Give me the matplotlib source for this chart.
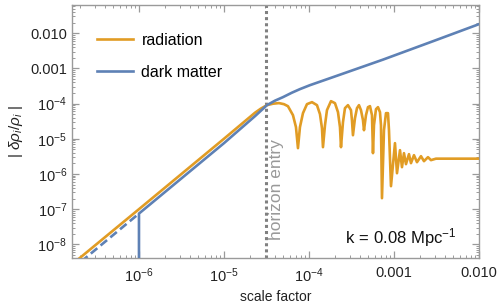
import numpy as np
import matplotlib
matplotlib.use("Agg")
import matplotlib.pyplot as plt
from matplotlib.ticker import FixedLocator, NullFormatter, LogLocator

plt.rcParams['font.family'] = ['Liberation Sans', 'DejaVu Sans']
plt.rcParams['mathtext.fontset'] = 'custom'
plt.rcParams['mathtext.rm'] = 'Liberation Sans'
plt.rcParams['mathtext.it'] = 'Liberation Sans:italic'

# ---- data ----
# radiation |delta rho / rho|
a_rad = [1.6e-7, 1e-6, 1e-5, 2.32e-5, 2.72e-5, 3.2e-5, 3.77e-5, 4.44e-5, 5.08e-5, 5.66e-5,
         6.48e-5, 7.03e-5, 7.42e-5,
         7.83e-5, 8.50e-5, 9.47e-5, 1.085e-4, 1.242e-4, 1.347e-4, 1.422e-4, 1.461e-4,
         1.543e-4, 1.628e-4, 1.815e-4, 2.022e-4, 2.194e-4, 2.316e-4, 2.380e-4,
         2.512e-4, 2.651e-4, 2.875e-4, 3.119e-4, 3.204e-4, 3.292e-4,
         3.476e-4, 3.670e-4, 3.874e-4, 4.090e-4, 4.318e-4, 4.437e-4,
         4.684e-4, 4.945e-4, 5.220e-4, 5.511e-4, 5.662e-4,
         5.817e-4, 6.141e-4, 6.483e-4, 6.844e-4, 7.032e-4, 7.225e-4,
         7.627e-4, 8.052e-4, 8.500e-4, 8.734e-4, 9.220e-4,
         1.0275e-3, 1.085e-3, 1.177e-3, 1.242e-3, 1.311e-3, 1.384e-3, 1.501e-3, 1.585e-3,
         1.719e-3, 1.865e-3, 2.078e-3, 2.254e-3, 2.512e-3, 2.725e-3, 3.119e-3, 1e-2]
d_rad = [2.6e-9, 1.0e-7, 1.0e-5, 5.5e-5, 7.2e-5, 9.0e-5, 9.9e-5, 1.03e-4, 9.6e-5, 8.4e-5,
         4.68e-5, 2.14e-5, 5.41e-6,
         2.14e-5, 5.34e-5, 9.62e-5, 1.096e-4, 9.01e-5, 5.0e-5, 2.0e-5, 5.77e-6,
         2.43e-5, 6.49e-5, 1.17e-4, 1.026e-4, 5.7e-5, 2.14e-5, 5.77e-6,
         2.96e-5, 7.4e-5, 9.01e-5, 6.49e-5, 3.38e-5, 1.26e-5,
         3.85e-5, 7.4e-5, 9.01e-5, 6.49e-5, 3.38e-5, 1.75e-5,
         4.68e-5, 7.9e-5, 8.44e-5, 4.68e-5, 3.9e-6,
         2.43e-5, 6.93e-5, 7.9e-5, 5.7e-5, 2.43e-5, 2.05e-7,
         1.75e-5, 5.34e-5, 5.34e-5, 1.75e-5, 4.5e-7,
         7.5e-6, 1.05e-6, 4.74e-6, 1.56e-6, 3.9e-6, 1.9e-6, 3.65e-6, 2.03e-6,
         3.42e-6, 2.16e-6, 3.2e-6, 2.31e-6, 3.0e-6, 2.47e-6, 2.72e-6, 2.72e-6]

# dark matter, superhorizon initial part (dashed) and evolved part (solid)
a_dm_init = [1.6e-7, 1e-6]
d_dm_init = [1.9e-9, 7.5e-8]
a_dm = [1e-6, 1e-6, 1e-5, 2.32e-5, 3.2e-5, 3.98e-5, 4.94e-5, 6.31e-5, 7.83e-5, 1.028e-4,
        1.914e-4, 7.43e-4, 2.88e-3, 1e-2]
d_dm = [1e-9, 7.5e-8, 7.5e-6, 4.4e-5, 9.0e-5, 1.207e-4, 1.52e-4, 2.04e-4, 2.57e-4, 3.33e-4,
        5.62e-4, 1.77e-3, 5.9e-3, 1.8e-2]

a_horizon = 3.1e-5

xticks = [1e-6, 1e-5, 1e-4, 1e-3, 1e-2]
xticklabels = [r'$10^{-6}$', r'$10^{-5}$', r'$10^{-4}$', '0.001', '0.010']
yticks = [1e-8, 1e-7, 1e-6, 1e-5, 1e-4, 1e-3, 1e-2]
yticklabels = [r'$10^{-8}$', r'$10^{-7}$', r'$10^{-6}$', r'$10^{-5}$', r'$10^{-4}$', '0.001', '0.010']

orange = '#E19C24'
blue = '#5E81B5'
frame = '#9a9a9a'

fig = plt.figure(figsize=(4.98, 3.07), dpi=100)
ax = fig.add_axes([0.1446, 0.1596, 0.8172, 0.8241])

ax.plot(a_dm_init, d_dm_init, color=blue, lw=1.9, ls=(0, (3.2, 1.6)))
ax.plot(a_rad, d_rad, color=orange, lw=1.9, label='radiation', zorder=3)
ax.plot(a_dm, d_dm, color=blue, lw=1.9, label='dark matter', zorder=4)
ax.axvline(a_horizon, color='#808080', lw=2.2, ls=(0, (1, 1)), zorder=2)

ax.set_xscale('log')
ax.set_yscale('log')
ax.set_xlim(1.63e-7, 1e-2)
ax.set_ylim(4.1e-9, 6.3e-2)

ax.xaxis.set_major_locator(FixedLocator(xticks))
ax.set_xticklabels(xticklabels)
ax.yaxis.set_major_locator(FixedLocator(yticks))
ax.set_yticklabels(yticklabels)
ax.xaxis.set_minor_locator(LogLocator(base=10, subs=np.arange(2, 10), numticks=20))
ax.yaxis.set_minor_locator(LogLocator(base=10, subs=np.arange(2, 10), numticks=20))
ax.xaxis.set_minor_formatter(NullFormatter())
ax.yaxis.set_minor_formatter(NullFormatter())

for s in ax.spines.values():
    s.set_color(frame)
    s.set_linewidth(1.0)
ax.tick_params(which='both', direction='in', top=True, right=True, color=frame,
               labelsize=10.5, labelcolor='#222222')
ax.tick_params(which='major', length=5, width=0.9)
ax.tick_params(which='minor', length=2.5, width=0.7)
ax.tick_params(axis='x', pad=6)

ax.set_xlabel('scale factor', fontsize=10, color='#222222', labelpad=4)
ax.set_ylabel(r'$|\ \delta\rho_i/\rho_i\ |$', fontsize=11, color='#222222', labelpad=4)

ax.text(4.2e-5, 1.3e-8, 'horizon entry', rotation=90, color='#999999', fontsize=12.5,
        ha='center', va='bottom')
ax.text(0.945, 0.079, r'k$\,=\,$0.08 Mpc$^{-1}$', transform=ax.transAxes, fontsize=12,
        ha='right', va='center', color='#111111')

leg = ax.legend(loc='upper left', bbox_to_anchor=(0.045, 0.915), frameon=False,
                fontsize=11.5, handlelength=2.3, handletextpad=0.5, labelspacing=1.05,
                borderaxespad=0)

fig.savefig('out.png', dpi=100)
